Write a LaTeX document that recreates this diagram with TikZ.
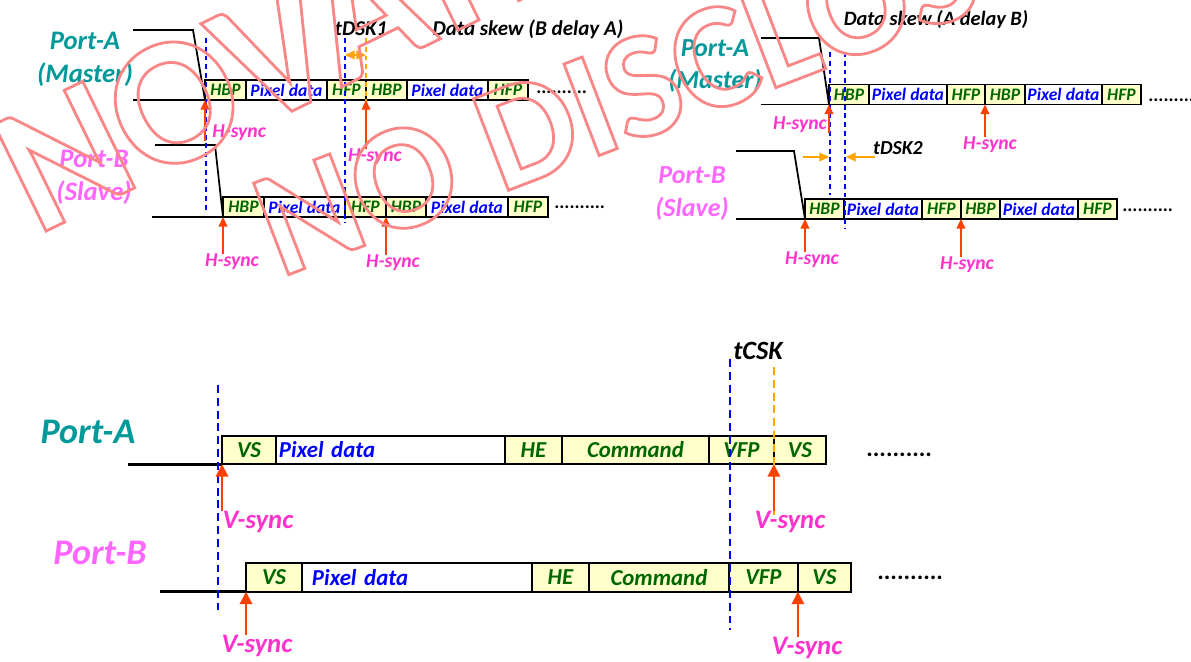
\documentclass[tikz,border=0pt]{standalone}
\usepackage{fontspec}
\setmainfont{Carlito}
\usepackage{xcolor}
\usetikzlibrary{positioning,arrows.meta}

\definecolor{portA}{RGB}{0,153,153}
\definecolor{portB}{RGB}{255,102,255}
\definecolor{syncpink}{RGB}{255,51,204}
\definecolor{syncred}{RGB}{255,64,0}
\definecolor{skeworange}{RGB}{255,165,0}
\definecolor{segfill}{RGB}{255,255,204}
\definecolor{segtext}{RGB}{0,102,0}
\definecolor{wmred}{RGB}{250,135,135}
\newcommand{\bfit}{\bfseries\itshape}
% outline-only glyphs (text render mode 1)
\newcommand{\strokedtext}[1]{\special{pdf:literal direct 1 Tr 1.6 w}#1\special{pdf:literal direct 0 Tr}}

\begin{document}
\begin{tikzpicture}[x=0.02cm,y=-0.02cm,
  hseg/.style={draw,line width=0.85pt,fill=segfill,text=segtext,inner sep=0pt,outer sep=0pt,minimum height=0.4cm,font=\fontsize{10}{10}\selectfont\bfit},
  hpix/.style={hseg,fill=white,text=blue},
  vseg/.style={hseg,line width=1.4pt,minimum height=0.57cm,font=\fontsize{13}{13}\selectfont\bfit},
  vpix/.style={vseg,fill=white,text=blue,align=left},
  wave/.style={line width=1pt},
  bdash/.style={draw=blue,line width=0.9pt,dash pattern=on 2.8pt off 2.2pt},
  odash/.style={bdash,draw=skeworange},
  bdashv/.style={draw=blue,line width=1.2pt,dash pattern=on 4.5pt off 2.8pt},
  odashv/.style={bdashv,draw=skeworange},
  hsync/.style={draw=syncred,line width=0.9pt,-{Triangle[width=5pt,length=5.5pt]}},
  vsync/.style={draw=syncred,line width=1.2pt,-{Triangle[width=7pt,length=7pt]}},
  hlab/.style={text=syncpink,inner sep=0pt,font=\fontsize{11.2}{11.2}\selectfont\bfit},
  vlab/.style={hlab,font=\fontsize{15.2}{15.2}\selectfont\bfit},
  portlab/.style={align=center,inner sep=0pt,font=\fontsize{15.2}{18.8}\selectfont\bfit},
  note/.style={inner sep=0pt,font=\fontsize{12}{12}\selectfont\bfit},
  dots/.style={inner sep=0pt,anchor=base west,font=\fontsize{10.8}{10.8}\selectfont\bfseries},
  skew/.style={draw=skeworange,line width=0.9pt},
  wmark/.style={text=wmred,inner sep=0pt,anchor=base west,font=\fontsize{104}{104}\selectfont\bfseries}]

\useasboundingbox[fill=white] (0,0) rectangle (1191,662);

% ---- data skew, B delay A
\node[portlab,text=portA] (pa1) at (85,59) {Port-A\\(Master)};
\node[portlab,text=portB] (pb1) at (94,177) {Port-B\\(Slave)};

\node[hseg,minimum width=0.82cm,anchor=west] (a1) at (205,90) {HBP};
\node[hpix,minimum width=1.62cm,right=0pt of a1] (a2) {Pixel data};
\node[hseg,minimum width=0.78cm,right=0pt of a2] (a3) {HFP};
\node[hseg,minimum width=0.82cm,right=0pt of a3] (a4) {HBP};
\node[hpix,minimum width=1.62cm,right=0pt of a4] (a5) {Pixel data};
\node[hseg,minimum width=0.80cm,right=0pt of a5] (a6) {HFP};
\node[dots] (a7) at (536,94) {..........};

\node[hseg,minimum width=0.82cm,anchor=west] (b1) at (223,207) {HBP};
\node[hpix,minimum width=1.62cm,right=0pt of b1] (b2) {Pixel data};
\node[hseg,minimum width=0.82cm,right=0pt of b2] (b3) {HFP};
\node[hseg,minimum width=0.80cm,right=0pt of b3] (b4) {HBP};
\node[hpix,minimum width=1.64cm,right=0pt of b4] (b5) {Pixel data};
\node[hseg,minimum width=0.80cm,right=0pt of b5] (b6) {HFP};
\node[dots] (b7) at (554,209) {..........};

\draw[wave] (133,30) -- (193,30) -- (a1.south west);
\draw[wave] (a1.south west) -- +(-72,0);
\draw[wave] (155,145) -- (215,145) -- (b1.south west);
\draw[wave] (b1.south west) -- +(-71,0);

\draw[bdash] (206,38) -- (206,212);
\draw[bdash] (345,38) -- (345,223);
\draw[odash] (366,38) -- (366,150);
\draw[skew,{Triangle[width=5pt,length=5.5pt]}-{Triangle[width=5pt,length=5.5pt]}] (345,55) -- (366,55);
\node[note] (tdsk1) at (361,29) {tDSK1};
\node[note] (skew1) at (528,29) {Data skew (B delay A)};

\node[hlab,anchor=west] (ha1) at (212,133) {H-sync};
\node[hlab] (ha2) at (375,157) {H-sync};
\node[hlab] (hb1) at (232,262) {H-sync};
\node[hlab] (hb2) at (393,263) {H-sync};
\draw[hsync] (ha1.south -| a1.south west) -- (a1.south west);
\draw[hsync] (ha2.north -| a4.south west) -- (a4.south west);
\draw[hsync] (hb1.north -| b1.south west) -- (b1.south west);
\draw[hsync] (hb2.north -| b4.south west) -- (b4.south west);

% ---- data skew, A delay B
\node[portlab,text=portA,font=\fontsize{14.8}{18.2}\selectfont\bfit] (pa2) at (715,66) {Port-A\\(Master)};
\node[portlab,text=portB,font=\fontsize{14.8}{18.8}\selectfont\bfit] (pb2) at (692,194) {Port-B\\(Slave)};

\node[hseg,minimum width=0.80cm,anchor=west] (c1) at (829,94.5) {HBP};
\node[hpix,minimum width=1.56cm,right=0pt of c1] (c2) {Pixel data};
\node[hseg,minimum width=0.76cm,right=0pt of c2] (c3) {HFP};
\node[hseg,minimum width=0.80cm,right=0pt of c3] (c4) {HBP};
\node[hpix,minimum width=1.54cm,right=0pt of c4] (c5) {Pixel data};
\node[hseg,minimum width=0.78cm,right=0pt of c5] (c6) {HFP};
\node[dots] (c7) at (1148,102) {..........};

\node[hseg,minimum width=0.78cm,anchor=west] (d1) at (805,209) {HBP};
\node[hpix,minimum width=1.56cm,right=0pt of d1] (d2) {Pixel data};
\node[hseg,minimum width=0.78cm,right=0pt of d2] (d3) {HFP};
\node[hseg,minimum width=0.78cm,right=0pt of d3] (d4) {HBP};
\node[hpix,minimum width=1.56cm,right=0pt of d4] (d5) {Pixel data};
\node[hseg,minimum width=0.78cm,right=0pt of d5] (d6) {HFP};
\node[dots] (d7) at (1122,212) {..........};

\draw[wave] (761,38) -- (819,38) -- (c1.south west);
\draw[wave] (c1.south west) -- +(-68,0);
\draw[wave] (736,151) -- (794,151) -- (d1.south west);
\draw[wave] (d1.south west) -- +(-69,0);

\draw[bdash] (830,52) -- (830,195);
\draw[bdash] (845,52) -- (845,228);
\draw[skew,-{Triangle[width=5pt,length=5.5pt]}] (803,157) -- (829,157);
\draw[skew,-{Triangle[width=5pt,length=5.5pt]}] (875,157) -- (846,157);
\node[note,font=\fontsize{11.3}{11.3}\selectfont\bfit] (tdsk2) at (898,148) {tDSK2};
\node[note,font=\fontsize{11.6}{11.6}\selectfont\bfit] (skew2) at (936,20) {Data skew (A delay B)};

\node[hlab] (hc1) at (800,125) {H-sync};
\node[hlab] (hc2) at (990,145) {H-sync};
\node[hlab] (hd1) at (812,260) {H-sync};
\node[hlab] (hd2) at (967,265) {H-sync};
\draw[hsync] (hc1.south -| c1.south west) -- (c1.south west);
\draw[hsync] (hc2.north -| c4.south west) -- (c4.south west);
\draw[hsync] (hd1.north -| d1.south west) -- (d1.south west);
\draw[hsync] (hd2.north -| d4.south west) -- (d4.south west);

% ---- command skew
\node[text=portA,font=\fontsize{20.5}{20.5}\selectfont\bfit] (pa3) at (88,432) {Port-A};
\node[text=portB,font=\fontsize{20.5}{20.5}\selectfont\bfit] (pb3) at (100,553) {Port-B};

\node[vseg,minimum width=1.08cm,anchor=west] (e1) at (222,450) {VS};
\node[vpix,text width=4.58cm,right=0pt of e1] (e2) {\hspace*{0.06cm}Pixel data};
\node[vseg,minimum width=1.14cm,right=0pt of e2] (e3) {HE};
\node[vseg,minimum width=2.94cm,right=0pt of e3] (e4) {Command};
\node[vseg,minimum width=1.30cm,right=0pt of e4] (e5) {VFP};
\node[vseg,minimum width=1.04cm,right=0pt of e5] (e6) {VS};
\node[dots,font=\fontsize{14}{14}\selectfont\bfseries] (e7) at (866,457) {..........};

\node[vseg,minimum width=1.12cm,anchor=west] (f1) at (246,577.5) {VS};
\node[vpix,text width=4.60cm,right=0pt of f1] (f2) {\hspace*{0.2cm}Pixel data};
\node[vseg,minimum width=1.14cm,right=0pt of f2] (f3) {HE};
\node[vseg,minimum width=2.80cm,right=0pt of f3] (f4) {Command};
\node[vseg,minimum width=1.38cm,right=0pt of f4] (f5) {VFP};
\node[vseg,minimum width=1.06cm,right=0pt of f5] (f6) {VS};
\node[dots,font=\fontsize{14}{14}\selectfont\bfseries] (f7) at (877,579) {..........};

\draw[wave,line width=1.7pt] (e1.south west) -- +(-94,0);
\draw[wave,line width=1.7pt] (f1.south west) -- +(-86,0);

\draw[bdashv] (218,385) -- (218,610);
\draw[bdashv] (730,359) -- (730,630);
\draw[odashv] (774,367) -- (774,515);
\node[note,font=\fontsize{15}{15}\selectfont\bfit] (tcsk) at (758,351) {tCSK};

\node[vlab] (va1) at (258,522) {V-sync};
\node[vlab] (va2) at (790,522) {V-sync};
\node[vlab] (vb1) at (257,646) {V-sync};
\node[vlab] (vb2) at (807,648) {V-sync};
\draw[vsync] (va1.north -| e1.south west) -- (e1.south west);
\draw[vsync] (va2.north -| e6.south west) -- (e6.south west);
\draw[vsync] (vb1.north -| f1.south west) -- (f1.south west);
\draw[vsync] (vb2.north -| f6.south west) -- (f6.south west);

% ---- watermark
\begin{scope}
\clip (0,0) rectangle (1191,662);
\node[wmark,rotate=26] (wm1) at (36,236) {\strokedtext{NOVATEK}};
\node[wmark,rotate=21,font=\fontsize{86}{86}\selectfont\bfseries] (wm2) at (280,278) {\strokedtext{NO DISCLOSURE}};
\end{scope}
\end{tikzpicture}
\end{document}
